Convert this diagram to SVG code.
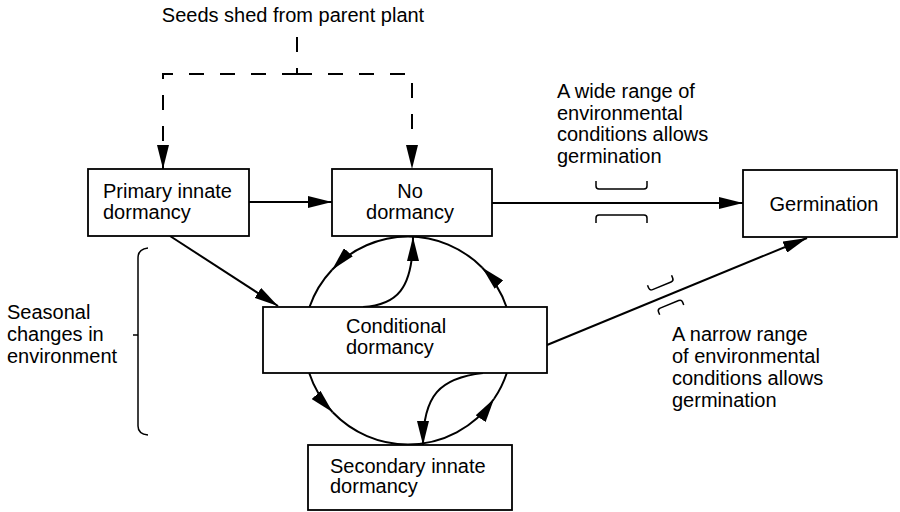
<svg xmlns="http://www.w3.org/2000/svg" width="900" height="512" viewBox="0 0 900 512">
<style>
text{font-family:"Liberation Sans",Arial,sans-serif;font-size:20px;fill:#000}
.box{fill:#fff;stroke:#000;stroke-width:1.8}
.ln{fill:none;stroke:#000;stroke-width:2}
.dash{fill:none;stroke:#000;stroke-width:2;stroke-dasharray:15 16}
.thin{fill:none;stroke:#000;stroke-width:1.5}
.mid{text-anchor:middle}
</style>
<defs>
<marker id="ah" markerUnits="userSpaceOnUse" markerWidth="24" markerHeight="12" refX="24" refY="6" orient="auto">
<path d="M0,0 L24,6 L0,12 z" fill="#000"/>
</marker>
</defs>
<rect width="900" height="512" fill="#fff"/>

<g id="connectors">
<!-- seeds dashed -->
<path class="dash" d="M297,37 V74"/>
<path class="dash" d="M297,74 H163 V169" marker-end="url(#ah)"/>
<path class="dash" d="M297,74 H412 V169" marker-end="url(#ah)"/>
<!-- primary -> no dormancy -->
<path class="ln" d="M249,202 H332" marker-end="url(#ah)"/>
<!-- primary -> conditional -->
<path class="ln" d="M170,236 L278,306" marker-end="url(#ah)"/>
<!-- no dormancy -> germination -->
<path class="ln" d="M492,203 H743" marker-end="url(#ah)"/>
<!-- conditional -> germination -->
<path class="ln" d="M547,345 L807,238" marker-end="url(#ah)"/>
<!-- circle arcs -->
<path class="ln" d="M408,236.5 A104,104 0 0 0 332.1,269.8" marker-end="url(#ah)"/>
<path class="ln" d="M332.1,269.8 A104,104 0 0 0 309.5,307"/>
<path class="ln" d="M506.5,307 A104,104 0 0 0 482.1,267.5" marker-end="url(#ah)"/>
<path class="ln" d="M482.1,267.5 A104,104 0 0 0 408,236.5"/>
<path class="ln" d="M363,307 C396,305 413,290 413,237" marker-end="url(#ah)"/>
<path class="ln" d="M309.2,373 A104,104 0 0 0 332.7,412.3" marker-end="url(#ah)"/>
<path class="ln" d="M332.7,412.3 A104,104 0 0 0 408,444.5"/>
<path class="ln" d="M408,444.5 A104,104 0 0 0 494.1,398.8" marker-end="url(#ah)"/>
<path class="ln" d="M494.1,398.8 A104,104 0 0 0 506.8,373"/>
<path class="ln" d="M483,373 C440,378 423,395 423,445" marker-end="url(#ah)"/>
<!-- wide-range brackets -->
<path class="thin" d="M596,181 V186 Q596,189 599,189 H644 Q647,189 647,186 V181"/>
<path class="thin" d="M596,223 V218 Q596,215 599,215 H644 Q647,215 647,218 V223"/>
<!-- narrow-range brackets -->
<g transform="translate(666,296) rotate(-22.37)">
<path class="thin" d="M-13,-17 V-14 Q-13,-11 -10,-11 H10 Q13,-11 13,-14 V-17"/>
<path class="thin" d="M-13,15 V12 Q-13,9 -10,9 H10 Q13,9 13,12 V15"/>
</g>
<!-- seasonal brace -->
<path class="thin" d="M148,248 Q138,249 138,258 V426 Q138,434 148,435"/>
<path class="thin" d="M133,335 H138"/>
</g>

<g id="seeds-label"><text x="293" y="22" class="mid">Seeds shed from parent plant</text></g>

<g id="primary">
<rect class="box" x="88" y="169" width="161" height="67"/>
<text x="103" y="198">Primary innate</text>
<text x="103" y="219">dormancy</text>
</g>

<g id="nodormancy">
<rect class="box" x="332" y="169" width="160" height="67"/>
<text x="410" y="198" class="mid">No</text>
<text x="410" y="219" class="mid">dormancy</text>
</g>

<g id="germination">
<rect class="box" x="743" y="170" width="154" height="67"/>
<text x="824" y="211" class="mid">Germination</text>
</g>

<g id="conditional">
<rect class="box" x="263" y="307" width="284" height="66"/>
<text x="346" y="333">Conditional</text>
<text x="346" y="354">dormancy</text>
</g>

<g id="secondary">
<rect class="box" x="308" y="445" width="204" height="65"/>
<text x="330" y="473">Secondary innate</text>
<text x="330" y="493">dormancy</text>
</g>

<g id="wide-label">
<text x="557" y="98">A wide range of</text>
<text x="557" y="120">environmental</text>
<text x="557" y="141">conditions allows</text>
<text x="557" y="163">germination</text>
</g>

<g id="narrow-label">
<text x="672" y="341">A narrow range</text>
<text x="672" y="363">of environmental</text>
<text x="672" y="385">conditions allows</text>
<text x="672" y="407">germination</text>
</g>

<g id="seasonal-label">
<text x="7" y="319">Seasonal</text>
<text x="7" y="341">changes in</text>
<text x="7" y="363">environment</text>
</g>
</svg>
